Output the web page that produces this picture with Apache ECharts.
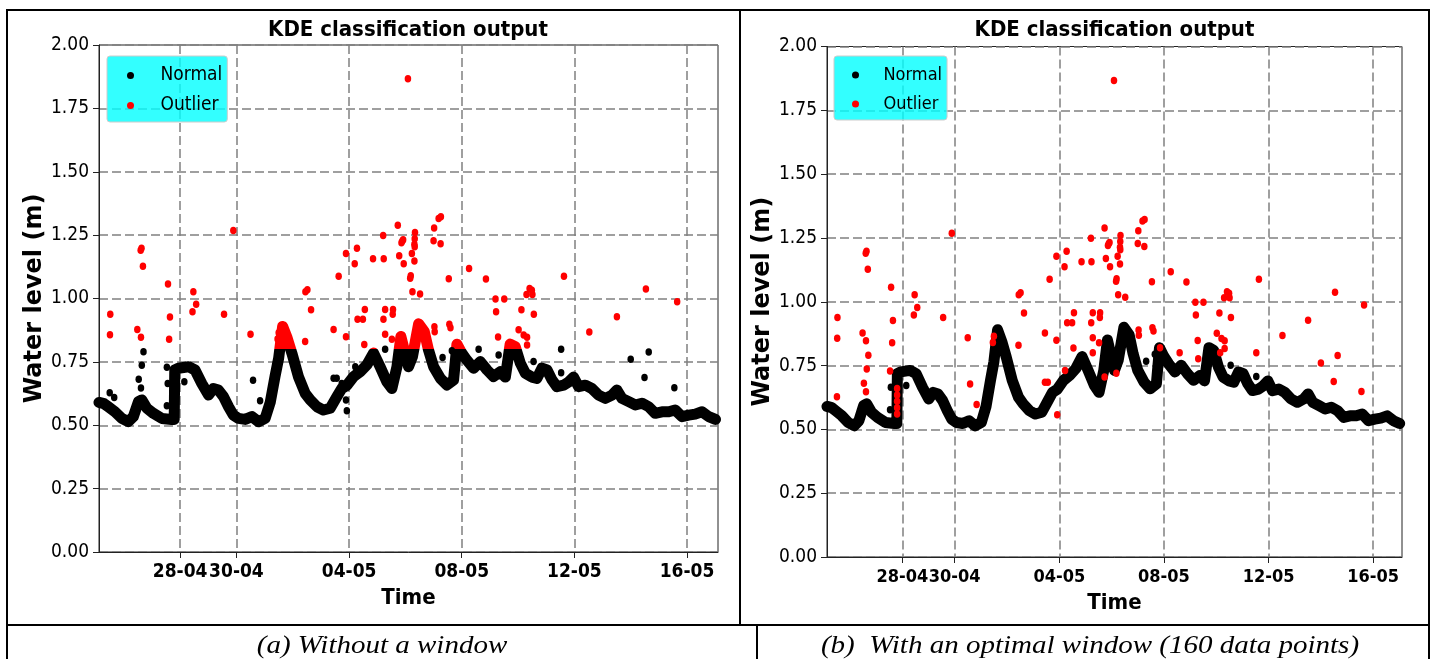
<!DOCTYPE html>
<html>
<head>
<meta charset="utf-8">
<script src="https://cdn.jsdelivr.net/npm/echarts@6/dist/echarts.min.js"></script>
<style>
html,body{margin:0;padding:0;background:#fff;}
#chart{width:1432px;height:659px;}
</style>
</head>
<body>
<div id="chart"></div>
<script>
// ---- axis ticks (days counted from 28-04 00:00) ----
const tickDays   = [0, 2, 6, 10, 14, 18];
const tickLabels = ['28-04', '30-04', '04-05', '08-05', '12-05', '16-05'];
const xDomain    = [-2.88, 19.1];
const yTickStep  = 0.25;
const outlierThreshold = 0.8;   // panel (a): trace points above this are flagged

// ---- main water-level trace [day, level m] (shared by both panels) ----
const waterLevel = [
 [-2.88,0.590],[-2.70,0.585],[-2.55,0.573],[-2.31,0.553],[-2.07,0.527],[-1.84,0.514],[-1.66,0.534],
 [-1.48,0.593],[-1.36,0.600],[-1.18,0.567],[-0.95,0.547],[-0.65,0.527],[-0.30,0.523],[-0.21,0.523],
 [-0.19,0.718],[-0.06,0.725],[0.30,0.731],[0.53,0.718],[0.77,0.665],[1.01,0.619],[1.18,0.645],
 [1.36,0.639],[1.54,0.613],[1.72,0.573],[1.89,0.540],[2.07,0.527],[2.31,0.523],[2.55,0.534],
 [2.78,0.514],[3.02,0.527],[3.20,0.590],[3.37,0.692],[3.50,0.765],[3.64,0.890],[3.80,0.845],
 [3.97,0.784],[4.20,0.692],[4.44,0.626],[4.62,0.600],[4.86,0.573],[5.09,0.560],[5.33,0.567],
 [5.57,0.613],[5.74,0.645],[5.92,0.657],[6.16,0.692],[6.39,0.711],[6.63,0.738],[6.87,0.785],
 [7.10,0.731],[7.34,0.672],[7.52,0.645],[7.70,0.731],[7.84,0.850],[7.99,0.784],[8.11,0.731],
 [8.25,0.770],[8.47,0.900],[8.67,0.870],[8.82,0.797],[9.00,0.731],[9.24,0.685],[9.47,0.659],
 [9.71,0.678],[9.83,0.820],[10.00,0.785],[10.18,0.757],[10.42,0.725],[10.66,0.751],[10.90,0.718],
 [11.13,0.692],[11.37,0.711],[11.55,0.690],[11.72,0.820],[11.90,0.810],[12.08,0.745],[12.26,0.705],
 [12.49,0.690],[12.67,0.685],[12.85,0.725],[13.03,0.718],[13.20,0.680],[13.38,0.652],[13.62,0.658],
 [13.79,0.670],[13.97,0.690],[14.15,0.652],[14.39,0.658],[14.62,0.645],[14.86,0.619],[15.10,0.606],
 [15.34,0.619],[15.51,0.639],[15.69,0.606],[15.93,0.593],[16.16,0.580],[16.40,0.587],[16.64,0.573],
 [16.87,0.547],[17.11,0.553],[17.35,0.553],[17.58,0.560],[17.82,0.534],[18.06,0.540],[18.29,0.544],
 [18.53,0.553],[18.77,0.534],[19.01,0.523]
];

// ---- outliers found in both panels ----
const outliersBoth = [
 [-2.48,0.938],[-2.49,0.857],[-1.37,1.198],[-1.40,1.190],[-1.32,1.127],[-1.52,0.878],[-1.39,0.847],
 [-0.43,1.057],[-0.36,0.927],[-0.39,0.839],[0.47,1.027],[0.57,0.977],[0.44,0.948],[1.56,0.938],
 [1.89,1.268],[2.50,0.859],[3.46,0.840],[3.50,0.865],[4.45,1.027],[4.52,1.035],[4.65,0.956],
 [4.44,0.830],[5.45,0.878],[5.63,1.088],[5.89,1.178],[5.89,0.849],[6.20,1.137],[6.28,1.198],
 [6.30,0.918],[6.49,0.918],[6.56,0.957],[6.54,0.819],[6.85,1.157],[7.21,1.249],[7.23,1.157],
 [7.22,0.918],[7.28,0.957],[7.56,0.957],[7.55,0.938],[7.28,0.859],[7.52,0.839],[7.73,1.289],
 [7.78,1.169],[7.86,1.220],[7.89,1.227],[7.92,1.232],[7.94,1.137],[8.09,1.867],[8.17,1.080],
 [8.19,1.090],[8.23,1.178],[8.32,1.148],[8.25,1.027],[8.34,1.260],[8.33,1.236],[8.32,1.214],
 [8.33,1.204],[8.52,1.018],[9.02,1.278],[9.00,1.228],[9.18,1.316],[9.26,1.322],[9.25,1.216],
 [9.03,0.889],[9.04,0.869],[9.54,1.078],[9.56,0.898],[9.60,0.885],[10.26,1.118],[10.86,1.077],
 [11.20,0.998],[11.51,0.998],[11.22,0.948],[11.29,0.848],[12.02,0.877],[12.12,0.956],[12.20,0.856],
 [12.32,0.847],[12.32,0.817],[12.41,1.039],[12.49,1.033],[12.30,1.016],[12.51,1.016],[12.56,0.938],
 [13.63,1.088],[14.53,0.868],[15.51,0.928],[16.54,1.037],[17.65,0.987]
];
// ---- points normal in (a) but outlier in (b) ----
const normalAOutlierB = [
 [-2.50,0.628],[-1.30,0.790],[-1.36,0.737],[-1.47,0.681],[-1.39,0.647],[-0.47,0.729],[2.59,0.678],
 [2.84,0.597],[5.45,0.685],[5.56,0.685],[5.92,0.557],[6.22,0.731],[7.28,0.800],[10.60,0.800],
 [11.31,0.777],[13.53,0.800],[16.00,0.760],[16.64,0.789],[16.49,0.688],[17.55,0.648]
];
// ---- isolated normal points in both panels ----
const normalsBoth = [
 [-0.47,0.577],[-0.44,0.665],[0.15,0.672],[9.32,0.767],[9.65,0.794],[12.55,0.751],[13.53,0.707]
];
const normalsOnlyA = [[-2.34,0.609],[5.74,0.665],[5.89,0.600]];
const outliersOnlyB = [
 [-0.20,0.560],[-0.20,0.585],[-0.20,0.610],[-0.20,0.635],[-0.20,0.660],
 [7.73,0.705],[8.18,0.720],[9.85,0.820],[12.15,0.800]
];

const FONT_C = "'DejaVu Sans Condensed','Liberation Sans Narrow','DejaVu Sans',sans-serif";
const FONT_Y = "'DejaVu Sans',sans-serif";
const GRID_DASH = {color:'#808080', width:1.5, type:[9,4]};

const panels = [
  {grid:{left:99, top:45, width:619, height:507}, titleX:408, legendLeft:107, legendPad:[10,5,7,20],
   legendFont:19, legendTextPad:14, yNameGap:46, xNameGap:34, xLabelFont:19},
  {grid:{left:827, top:46.5, width:575, height:510.5}, titleX:1114.5, legendLeft:834, legendPad:[10,5,7,18],
   legendFont:18, legendTextPad:12, yNameGap:45, xNameGap:35, xLabelFont:18}
];

const labelFor = v => { const i = tickDays.indexOf(v); return i >= 0 ? tickLabels[i] : ''; };

const option = {
  backgroundColor:'#fff',
  animation:false,
  title: panels.map(p => ({
    text:'KDE classification output', left:p.titleX, top:19, textAlign:'center', padding:0,
    textStyle:{fontFamily:FONT_C, fontWeight:'bold', fontSize:22, color:'#000'}
  })),
  legend: panels.map(p => ({
    left:p.legendLeft, top:56, orient:'vertical',
    backgroundColor:'rgba(0,255,255,0.8)', borderColor:'#cccccc', borderWidth:1, borderRadius:3,
    padding:p.legendPad, itemWidth:22, itemHeight:7, itemGap:11,
    formatter: name => '{n|' + name + '}',
    textStyle:{fontFamily:FONT_C, fontSize:p.legendFont, color:'#000',
               rich:{n:{fontFamily:FONT_C, fontSize:p.legendFont, color:'#000', padding:[0,0,0,p.legendTextPad]}}},
    data:[{name:'Normal', icon:'circle', itemStyle:{color:'#000'}},
          {name:'Outlier', icon:'circle', itemStyle:{color:'#ff0000'}}]
  })),
  grid: panels.map(p => Object.assign({show:true, borderColor:'#222', borderWidth:1, outerBoundsMode:'none', containLabel:false}, p.grid)),
  xAxis: panels.map((p, i) => ({
    type:'value', gridIndex:i, min:xDomain[0], max:xDomain[1],
    name:'Time', nameLocation:'middle', nameGap:p.xNameGap,
    nameTextStyle:{fontFamily:FONT_C, fontWeight:'bold', fontSize:22, color:'#000'},
    axisLine:{show:true, onZero:false, lineStyle:{color:'#222', width:1}},
    axisTick:{show:true, customValues:tickDays, length:6, lineStyle:{color:'#222'}},
    axisLabel:{customValues:tickDays, formatter:labelFor, margin:11, hideOverlap:false,
               fontFamily:FONT_C, fontWeight:'bold', fontSize:p.xLabelFont, color:'#000'},
    splitLine:{show:true, lineStyle:GRID_DASH}
  })),
  yAxis: panels.map((p, i) => ({
    type:'value', gridIndex:i, min:0, max:2, interval:yTickStep,
    name:'Water level (m)', nameLocation:'middle', nameGap:p.yNameGap, nameRotate:90,
    nameTextStyle:{fontFamily:FONT_Y, fontWeight:'bold', fontSize:24, color:'#000'},
    axisLine:{show:true, onZero:false, lineStyle:{color:'#222', width:1}},
    axisTick:{show:true, length:6, lineStyle:{color:'#222'}},
    axisLabel:{formatter:v => v.toFixed(2), margin:10, showMinLabel:true, showMaxLabel:true,
               fontFamily:FONT_C, fontSize:19, color:'#000'},
    splitLine:{show:true, lineStyle:GRID_DASH}
  })),
  visualMap:[{
    type:'piecewise', show:false, seriesIndex:0, dimension:1,
    pieces:[{gte:0, lt:outlierThreshold, color:'#000000'}, {gte:outlierThreshold, lte:2, color:'#ff0000'}],
    outOfRange:{color:'#000000'}
  }],
  series: [
    // panel (a) -- trace coloured by the visualMap (red above threshold)
    {name:'Normal', type:'line', xAxisIndex:0, yAxisIndex:0, data:waterLevel, symbol:'none', showSymbol:false,
     lineStyle:{width:11, cap:'round', join:'round'}, z:2, silent:true},
    {name:'Normal', type:'scatter', xAxisIndex:0, yAxisIndex:0,
     data:normalsBoth.concat(normalAOutlierB, normalsOnlyA), symbolSize:[6.5,7.5],
     itemStyle:{color:'#000', opacity:1}, z:3, silent:true},
    {name:'Outlier', type:'scatter', xAxisIndex:0, yAxisIndex:0, data:outliersBoth, symbolSize:[6.5,7.5],
     itemStyle:{color:'#ff0000', opacity:1}, z:4, silent:true},
    // panel (b)
    {name:'Normal', type:'line', xAxisIndex:1, yAxisIndex:1, data:waterLevel, symbol:'none', showSymbol:false,
     lineStyle:{width:11, color:'#000', cap:'round', join:'round'}, z:2, silent:true},
    {name:'Normal', type:'scatter', xAxisIndex:1, yAxisIndex:1, data:normalsBoth, symbolSize:[6.5,7.5],
     itemStyle:{color:'#000', opacity:1}, z:3, silent:true},
    {name:'Outlier', type:'scatter', xAxisIndex:1, yAxisIndex:1,
     data:outliersBoth.concat(normalAOutlierB, outliersOnlyB), symbolSize:[6.5,7.5],
     itemStyle:{color:'#ff0000', opacity:1}, z:4, silent:true}
  ],
  graphic: [
    {type:'line', silent:true, shape:{x1:7, y1:10, x2:1429, y2:10}, style:{stroke:'#000', lineWidth:2, lineCap:'square'}},
    {type:'line', silent:true, shape:{x1:7, y1:10, x2:7, y2:660}, style:{stroke:'#000', lineWidth:2, lineCap:'square'}},
    {type:'line', silent:true, shape:{x1:1429, y1:10, x2:1429, y2:660}, style:{stroke:'#000', lineWidth:2, lineCap:'square'}},
    {type:'line', silent:true, shape:{x1:7, y1:625, x2:1429, y2:625}, style:{stroke:'#000', lineWidth:2, lineCap:'square'}},
    {type:'line', silent:true, shape:{x1:740, y1:10, x2:740, y2:625}, style:{stroke:'#000', lineWidth:2}},
    {type:'line', silent:true, shape:{x1:757, y1:625, x2:757, y2:660}, style:{stroke:'#000', lineWidth:2}},
    {type:'text', silent:true, x:382, y:646, scaleX:1.16,
     style:{text:'(a) Without a window', font:"italic 25px 'Liberation Serif', serif", fill:'#000', align:'center', verticalAlign:'middle'}},
    {type:'text', silent:true, x:1090, y:646, scaleX:1.16,
     style:{text:'(b)  With an optimal window (160 data points)', font:"italic 25px 'Liberation Serif', serif", fill:'#000', align:'center', verticalAlign:'middle'}}
  ]
};

const chart = echarts.init(document.getElementById('chart'), null, {renderer:'canvas', width:1432, height:659});
chart.setOption(option);
</script>
</body>
</html>
